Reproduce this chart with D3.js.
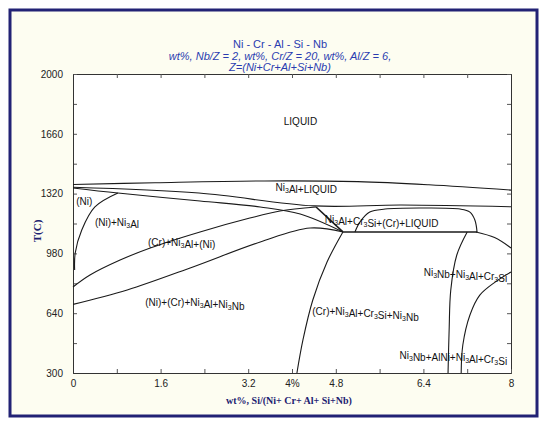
<!DOCTYPE html>
<html>
<head>
<meta charset="utf-8">
<script src="https://cdn.jsdelivr.net/npm/d3@7"></script>
<style>
  body { margin: 0; background: #fff; }
  svg { display: block; font-family: Arial, "Liberation Sans", sans-serif; }
</style>
</head>
<body>
<div id="chart"></div>
<script>
// tick values and labels
var xTickValues = [0, 1.6, 3.2, 4, 4.8, 6.4, 8];
var xTickLabels = ["0", "1.6", "3.2", "4%", "4.8", "6.4", "8"];
var yTickValues = [300, 640, 980, 1320, 1660, 2000];

// phase boundaries, [wt% Si, T(C)]
var liquidus = [[0, 1372], [1.5, 1382], [3.5, 1392], [5.2, 1388], [6.5, 1370], [8, 1340]];
var ni3alLiquidLower = [[0, 1356], [2.3, 1323], [4.4, 1250], [6, 1255], [8, 1245]];
var niUpper = [[0, 1352], [0.82, 1323], [2.32, 1278], [3.42, 1244], [4.15, 1204], [4.93, 1102]];
var niSolvus = [[0.03, 886], [0.04, 982], [0.16, 1113], [0.4, 1244], [0.82, 1323]];
var ni3alSolvus = [[0, 789], [0.31, 857], [0.86, 942], [1.41, 1011], [2.32, 1102], [3.23, 1181], [3.78, 1221], [4.44, 1244]];
var ni3alSolvusTail = [[4.44, 1244], [4.93, 1102]];
var crLower = [[0, 690], [0.99, 772], [2.19, 903], [3.42, 1045], [4.33, 1124], [4.93, 1102]];
var ni3nbLeft = [[4.09, 300], [4.2, 488], [4.38, 715], [4.64, 931], [4.93, 1102]];
var eutecticLine = [[4.93, 1102], [7.38, 1102]];
var liquidPocket = [[5.15, 1102], [5.24, 1158], [5.42, 1215], [5.7, 1232], [6.34, 1238], [7.07, 1232], [7.25, 1215], [7.34, 1170], [7.38, 1102]];
var ni3nbRight = [[7.2, 1102], [7.01, 971], [6.9, 772], [6.87, 544], [6.85, 300]];
var crSolvusRight = [[7.36, 1102], [7.7, 1070], [8, 1011]];
var alniBoundary = [[7.09, 300], [7.12, 459], [7.25, 630], [7.43, 743], [7.71, 817], [8, 874]];

var smoothCurves = [liquidus, ni3alLiquidLower, niUpper, niSolvus, ni3alSolvus, crLower,
  ni3nbLeft, liquidPocket, ni3nbRight, crSolvusRight, alniBoundary];
var straightLines = [ni3alSolvusTail, eutecticLine];

// region names, "_3" is a subscript
var regionNames = ["LIQUID", "Ni_3Al+LIQUID", "(Ni)", "(Ni)+Ni_3Al", "Ni_3Al+Cr_3Si+(Cr)+LIQUID",
  "(Cr)+Ni_3Al+(Ni)", "Ni_3Nb+Ni_3Al+Cr_3Si", "(Ni)+(Cr)+Ni_3Al+Ni_3Nb",
  "(Cr)+Ni_3Al+Cr_3Si+Ni_3Nb", "Ni_3Nb+AlNi+Ni_3Al+Cr_3Si"];
var regionSi = [3.85, 3.7, 0.06, 0.4, 4.6, 1.37, 7.93, 1.32, 4.37, 7.93];
var regionT = [1710, 1335, 1255, 1136, 1153, 1022, 851, 681, 630, 380];
var regionAnchor = ["start", "start", "start", "start", "start", "start", "end", "start", "start", "end"];

var titleLines = ["Ni - Cr - Al - Si - Nb",
  "wt%, Nb/Z = 2,  wt%, Cr/Z = 20,  wt%, Al/Z = 6,",
  "Z=(Ni+Cr+Al+Si+Nb)"];

// set the dimensions and margins of the graph
var margin = { top: 74, right: 34, bottom: 50, left: 73 },
  width = 438,
  height = 299;

var root = d3
  .select("#chart")
  .append("svg")
  .attr("width", 545)
  .attr("height", 423);

// outer frame
root
  .append("rect")
  .attr("x", 10)
  .attr("y", 10)
  .attr("width", 527)
  .attr("height", 406)
  .attr("fill", "#fdfdf1")
  .attr("stroke", "#222275")
  .attr("stroke-width", 3);

// title
root
  .selectAll(".title")
  .data(titleLines)
  .enter()
  .append("text")
  .attr("class", "title")
  .attr("x", 280)
  .attr("y", function (d, i) {
    return [48, 60, 71][i];
  })
  .attr("text-anchor", "middle")
  .style("font-size", "11px")
  .style("font-style", function (d, i) {
    return i == 0 ? "normal" : "italic";
  })
  .style("fill", "#2a3cb0")
  .text(function (d) {
    return d;
  });

var svg = root
  .append("g")
  .attr("transform", "translate(" + margin.left + "," + margin.top + ")");

svg
  .append("rect")
  .attr("width", width)
  .attr("height", height)
  .attr("fill", "#fff");

var x = d3.scaleLinear().domain([0, 8]).range([0, width]);
var y = d3.scaleLinear().domain([300, 2000]).range([height, 0]);

var xMinor = d3.range(0, 8.01, 0.8);
var yMinor = d3.range(300, 2001, 170);

// ticks only on top and right
svg
  .append("g")
  .call(d3.axisTop(x).tickValues(xMinor).tickSizeInner(-4).tickSizeOuter(0).tickFormat(""));
svg
  .append("g")
  .attr("transform", "translate(" + width + ",0)")
  .call(d3.axisRight(y).tickValues(yMinor).tickSizeInner(-4).tickSizeOuter(0).tickFormat(""));

// minor ticks on bottom and left
svg
  .append("g")
  .attr("transform", "translate(0," + height + ")")
  .call(d3.axisBottom(x).tickValues(xMinor).tickSizeInner(-4).tickSizeOuter(0).tickFormat(""));
svg
  .append("g")
  .call(d3.axisLeft(y).tickValues(yMinor).tickSizeInner(-4).tickSizeOuter(0).tickFormat(""));

// labelled axes
svg
  .append("g")
  .attr("class", "x-axis")
  .attr("transform", "translate(0," + height + ")")
  .call(
    d3
      .axisBottom(x)
      .tickValues(xTickValues)
      .tickSize(0)
      .tickPadding(7)
      .tickFormat(function (d, i) {
        return xTickLabels[i];
      })
  );
svg
  .append("g")
  .attr("class", "y-axis")
  .call(d3.axisLeft(y).tickValues(yTickValues).tickSize(0).tickPadding(10).tickFormat(d3.format("d")));

svg.selectAll(".domain").attr("stroke", "#333");
svg.selectAll(".tick line").attr("stroke", "#555");
svg
  .selectAll(".x-axis text, .y-axis text")
  .style("font-size", "10px")
  .style("font-family", "Arial, 'Liberation Sans', sans-serif")
  .attr("fill", "#222");

// axis titles
svg
  .append("text")
  .attr("x", 216)
  .attr("y", height + 31)
  .attr("text-anchor", "middle")
  .style("font-family", "'Liberation Serif', 'DejaVu Serif', serif")
  .style("font-weight", "bold")
  .style("font-size", "10px")
  .style("fill", "#1c2170")
  .text("wt%, Si/(Ni+ Cr+ Al+ Si+Nb)");

svg
  .append("text")
  .attr("transform", "rotate(-90)")
  .attr("x", -157)
  .attr("y", -32)
  .attr("text-anchor", "middle")
  .style("font-family", "'Liberation Serif', 'DejaVu Serif', serif")
  .style("font-weight", "bold")
  .style("font-size", "11px")
  .style("fill", "#1c2170")
  .text("T(C)");

// phase boundaries
var smoothLine = d3
  .line()
  .x(function (d) {
    return x(d[0]);
  })
  .y(function (d) {
    return y(d[1]);
  })
  .curve(d3.curveCatmullRom.alpha(0.5));

var straightLine = d3
  .line()
  .x(function (d) {
    return x(d[0]);
  })
  .y(function (d) {
    return y(d[1]);
  });

svg
  .selectAll(".boundary")
  .data(smoothCurves)
  .enter()
  .append("path")
  .attr("class", "boundary")
  .attr("d", smoothLine)
  .attr("fill", "none")
  .attr("stroke", "#1a1a1a")
  .attr("stroke-width", 1.1);

svg
  .selectAll(".straight")
  .data(straightLines)
  .enter()
  .append("path")
  .attr("class", "straight")
  .attr("d", straightLine)
  .attr("fill", "none")
  .attr("stroke", "#1a1a1a")
  .attr("stroke-width", 1.6);

// region labels with subscripts
regionNames.forEach(function (name, i) {
  var label = svg
    .append("text")
    .attr("x", x(regionSi[i]))
    .attr("y", y(regionT[i]))
    .attr("text-anchor", regionAnchor[i])
    .style("font-size", "10px")
    .style("fill", "#111");
  name.split(/(_\d)/).forEach(function (part) {
    if (part == "") return;
    if (part[0] == "_") {
      label.append("tspan").attr("dy", 2).style("font-size", "7px").text(part.slice(1));
      label.append("tspan").attr("dy", -2).text("");
    } else {
      label.append("tspan").text(part);
    }
  });
});
</script>
</body>
</html>
